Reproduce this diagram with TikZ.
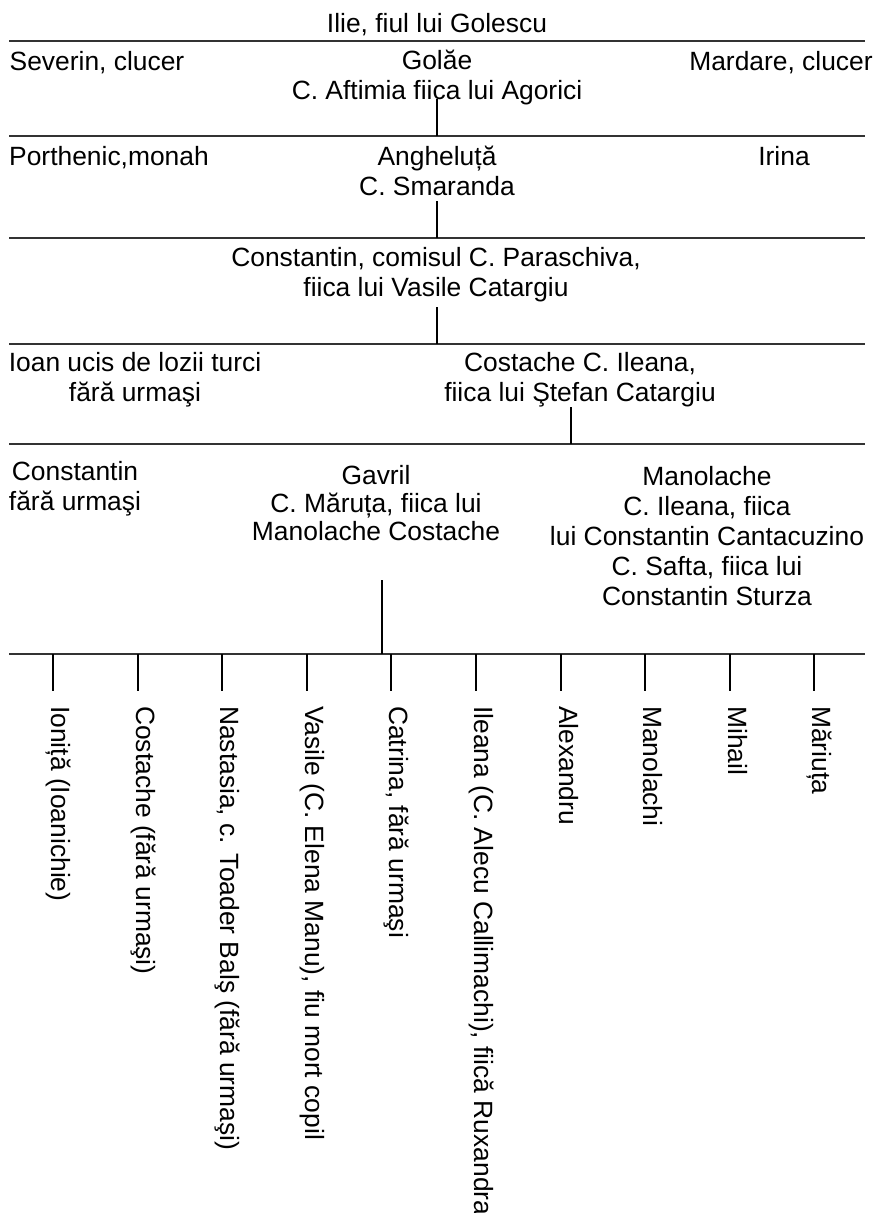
\documentclass[tikz,border=0pt]{standalone}
\usepackage{fontspec}
\setmainfont{Liberation Sans}
\tikzset{
 lbl/.style={font=\fontsize{26.4}{30}\selectfont,align=center,inner sep=0pt,anchor=center},
 tight/.style={font=\fontsize{26.4}{28}\selectfont},
 vlbl/.style={font=\fontsize{26.4}{30}\selectfont,inner sep=0pt,rotate=-90,anchor=north west},
 rule/.style={line width=1.3pt,black!80},
 stem/.style={line width=1.2pt,black}
}
\begin{document}
\begin{tikzpicture}[x=1pt,y=-1pt]
\useasboundingbox (0,0) rectangle (876,1213);
\coordinate (r1a) at (9,41); \coordinate (r1b) at (865,41);
\coordinate (r2a) at (9,136); \coordinate (r2b) at (865,136);
\coordinate (r3a) at (9,238); \coordinate (r3b) at (865,238);
\coordinate (r4a) at (9,344); \coordinate (r4b) at (865,344);
\coordinate (r5a) at (9,444); \coordinate (r5b) at (865,444);
\coordinate (r6a) at (9,654); \coordinate (r6b) at (865,654);
\foreach \n in {1,...,6} \draw[rule] (r\n a) -- (r\n b);
\node[lbl] (t1) at (437,25) {Ilie, fiul lui Golescu};
\node[lbl] (t2) at (97,63) {Severin, clucer};
\node[lbl] (t3) at (437,77.5) {Golăe\\C. Aftimia fiica lui Agorici};
\node[lbl] (t4) at (781,63) {Mardare, clucer};
\node[lbl] (t5) at (109,158) {Porthenic,monah};
\node[lbl] (t6) at (437,171) {Angheluță\\C. Smaranda};
\node[lbl] (t7) at (784,156) {Irina};
\node[lbl] (t8) at (436,274.5) {Constantin, comisul C. Paraschiva,\\fiica lui Vasile Catargiu};
\node[lbl] (t9) at (135,380) {Ioan ucis de lozii turci\\fără urmaşi};
\node[lbl] (t10) at (580,380) {Costache C. Ileana,\\fiica lui Ştefan Catargiu};
\node[lbl] (t11) at (75,489) {Constantin\\fără urmaşi};
\node[lbl,tight] (t12) at (376,503.5) {Gavril\\C. Măruța, fiica lui\\Manolache Costache};
\node[lbl] (t13) at (707,536) {Manolache\\C. Ileana, fiica\\lui Constantin Cantacuzino\\C. Safta, fiica lui\\Constantin Sturza};
\coordinate (c1) at (437,99); \draw[stem] (c1) -- (437,136);
\coordinate (c2) at (437,201); \draw[stem] (c2) -- (437,238);
\coordinate (c3) at (437,307); \draw[stem] (c3) -- (437,344);
\coordinate (c4) at (571,407); \draw[stem] (c4) -- (571,444);
\coordinate (c5) at (382,580); \draw[stem] (c5) -- (382,654);
\foreach \i/\x/\s in {a/53/Ioniță (Ioanichie),b/138/Costache (fără urmaşi),c/222/{Nastasia, c. Toader Balş (fără urmaşi)},d/307/{Vasile (C. Elena Manu), fiu mort copil},e/391/{Catrina, fără urmaşi},f/476/{Ileana (C. Alecu Callimachi), fiică Ruxandra},g/561/Alexandru,h/645/Manolachi,i/730/Mihail,j/814/Măriuța}{
  \coordinate (d\i) at (\x,654);
  \coordinate (e\i) at (\x,691);
  \draw[stem] (d\i) -- (e\i);
  \node[vlbl] (v\i) at (\x+18,706) {\s};
}
\end{tikzpicture}
\end{document}
